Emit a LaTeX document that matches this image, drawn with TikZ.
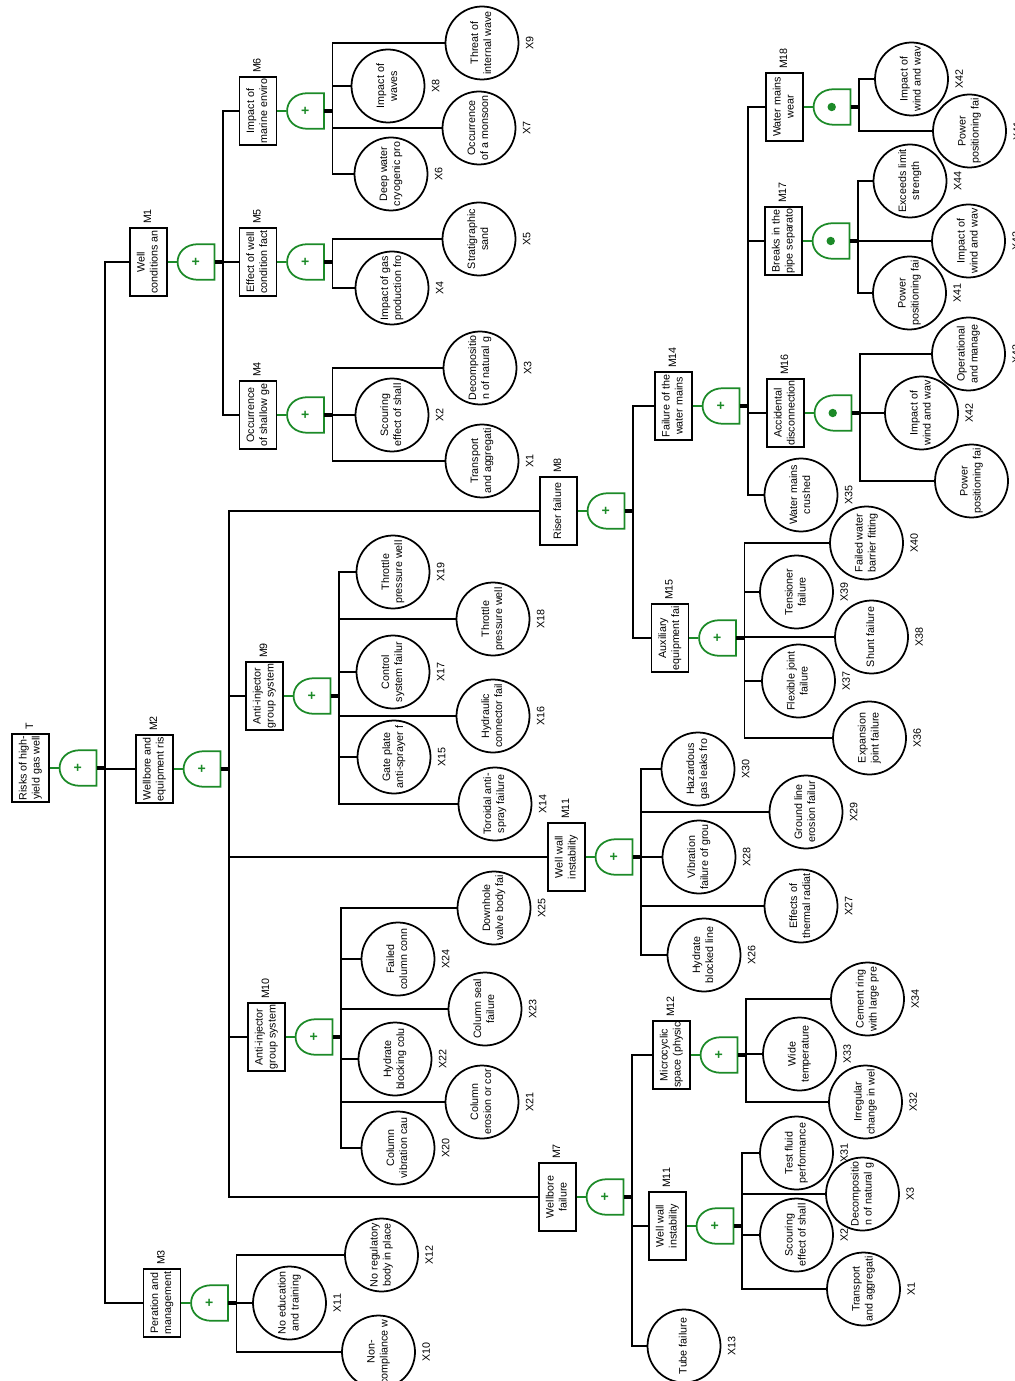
\documentclass[tikz,border=0pt]{standalone}
\usepackage{fontspec}
\setmainfont{Liberation Sans}
\usepackage{graphicx}
\usetikzlibrary{positioning,calc}
\definecolor{fgreen}{RGB}{28,138,40}
\newcommand{\evfont}{\fontsize{6.1}{7.4}\selectfont}
\newcommand{\rv}[1]{\rotatebox{90}{\begin{tabular}{@{}c@{}}#1\end{tabular}}}
\tikzset{
  evbox/.style={draw,line width=1pt,minimum width=0.74cm,minimum height=1.36cm,inner sep=0pt,font=\evfont},
  ev/.style={evbox,label={[tag,label distance=1pt]above:\rv{#1}}},
  basic/.style={draw,circle,line width=1pt,minimum size=1.46cm,inner sep=0pt,font=\evfont},
  bx/.style={basic,label={[tag,label distance=2pt]right:\rv{#1}}},
  gatebox/.style={minimum width=0.74cm,minimum height=0.70cm,inner sep=0pt},
  gateline/.style={draw=fgreen,line width=1pt},
  tag/.style={font=\evfont,inner sep=0.6pt},
  link/.style={line width=1pt},
  glink/.style={draw=fgreen,line width=1pt},
  outlink/.style={line width=1.8pt}
}
% gate right of an event box (gate name, box name)
\newcommand{\gatefor}[2]{%
  \node[gatebox,right=0.18cm of #2] (#1) {};
  \draw[gateline] (#1.north east) -- (#1.south east) -- ([xshift=-0.32cm]#1.south east)
    .. controls ([xshift=-0.88cm]#1.south east) and ([xshift=-0.88cm]#1.north east)
    .. ([xshift=-0.32cm]#1.north east) -- cycle;
  \draw[glink] (#2.east) -- (#1.west);
  \coordinate (#1o) at ([xshift=0.17cm]#1.east);
  \draw[outlink] (#1.east) -- (#1o);}
\newcommand{\orgate}[2]{\gatefor{#1}{#2}\node[text=fgreen,font=\bfseries\fontsize{8}{8}\selectfont,inner sep=0pt] at (#1) {+};}
\newcommand{\andgate}[2]{\gatefor{#1}{#2}\fill[fgreen] (#1) circle (2.4pt);}

\begin{document}
\begin{tikzpicture}[x=0.02cm,y=-0.02cm]
\useasboundingbox (0,0) rectangle (1014,1381);
\clip (0,0) rectangle (1014,1381);

% top event
\node[ev=T] (top) at (30.5,768) {\rv{Risks of high-\\yield gas well}};
\orgate{gt}{top}

% first level
\node[ev=M1] (m1) at (148.5,262) {\rv{Well\\conditions an}};
\node[ev=M2] (m2) at (154.5,769) {\rv{Wellbore and\\equipment ris}};
\node[ev=M3] (m3) at (162,1303) {\rv{Peration and\\management}};
\foreach \c in {m1,m2,m3} \draw[link] (gto) |- (\c.west);
\orgate{g1}{m1}
\orgate{g2}{m2}
\orgate{g3}{m3}

% well conditions
\node[ev=M4] (m4) at (258,415) {\rv{Occurrence\\of shallow ge}};
\node[ev=M5] (m5) at (258,262) {\rv{Effect of well\\condition fact}};
\node[ev=M6] (m6) at (258,111) {\rv{Impact of\\marine enviro}};
\foreach \c in {m4,m5,m6} \draw[link] (g1o) |- (\c.west);
\orgate{g4}{m4}
\orgate{g5}{m5}
\orgate{g6}{m6}
\node[bx=X1] (x1) at (482,461) {\rv{Transport\\and aggregati}};
\node[bx=X2] (x2) at (392,415) {\rv{Scouring\\effect of shall}};
\node[bx=X3] (x3) at (480,368) {\rv{Decompositio\\n of natural g}};
\foreach \c in {x1,x2,x3} \draw[link] (g4o) |- (\c.west);
\node[bx=X4] (x4) at (392,288) {\rv{Impact of gas\\production fro}};
\node[bx=X5] (x5) at (479,239) {\rv{Stratigraphic\\sand}};
\foreach \c in {x4,x5} \draw[link] (g5o) |- (\c.west);
\node[bx=X6] (x6) at (391,174) {\rv{Deep water\\cryogenic pro}};
\node[bx=X7] (x7) at (479,128) {\rv{Occurrence\\of a monsoon}};
\node[bx=X8] (x8) at (388,86) {\rv{Impact of\\waves}};
\node[bx=X9] (x9) at (482,43) {\rv{Threat of\\internal wave}};
\foreach \c in {x6,x7,x8,x9} \draw[link] (g6o) |- (\c.west);

% wellbore and equipment
\node[ev=M8] (m8) at (558.5,511) {\rv{Riser failure}};
\node[ev=M9] (m9) at (264.5,696) {\rv{Anti-injector\\group system}};
\node[ev=M11] (m11a) at (566.5,857) {\rv{Well wall\\instability}};
\node[ev=M10] (m10) at (266.5,1037) {\rv{Anti-injector\\group system}};
\node[ev=M7] (m7) at (557.5,1197) {\rv{Wellbore\\failure}};
\foreach \c in {m8,m9,m11a,m10,m7} \draw[link] (g2o) |- (\c.west);
\orgate{g8}{m8}
\orgate{g9}{m9}
\orgate{g11a}{m11a}
\orgate{g10}{m10}
\orgate{g7}{m7}

\node[bx=X14] (x14) at (495,804) {\rv{Toroidal anti-\\spray failure}};
\node[bx=X15] (x15) at (394,757) {\rv{Gate plate\\anti-sprayer f}};
\node[bx=X16] (x16) at (493,716) {\rv{Hydraulic\\connector fail}};
\node[bx=X17] (x17) at (393,672) {\rv{Control\\system failur}};
\node[bx=X18] (x18) at (493,619) {\rv{Throttle\\pressure well}};
\node[bx=X19] (x19) at (393,572) {\rv{Throttle\\pressure well}};
\foreach \c in {x14,x15,x16,x17,x18,x19} \draw[link] (g9o) |- (\c.west);

\node[bx=X20] (x20) at (398,1148) {\rv{Column\\vibration cau}};
\node[bx=X21] (x21) at (482,1102) {\rv{Column\\erosion or cor}};
\node[bx=X22] (x22) at (395,1059) {\rv{Hydrate\\blocking colu}};
\node[bx=X23] (x23) at (485,1009) {\rv{Column seal\\failure}};
\node[bx=X24] (x24) at (398,959) {\rv{Failed\\column conn}};
\node[bx=X25] (x25) at (494,908) {\rv{Downhole\\valve body fai}};
\foreach \c in {x20,x21,x22,x23,x24,x25} \draw[link] (g10o) |- (\c.west);

\node[bx=X26] (x26) at (704,955) {\rv{Hydrate\\blocked line}};
\node[bx=X27] (x27) at (801,906) {\rv{Effects of\\thermal radiat}};
\node[bx=X28] (x28) at (699,857) {\rv{Vibration\\failure of grou}};
\node[bx=X29] (x29) at (806,812) {\rv{Ground line\\erosion failur}};
\node[bx=X30] (x30) at (698,769) {\rv{Hazardous\\gas leaks fro}};
\foreach \c in {x26,x27,x28,x29,x30} \draw[link] (g11ao) |- (\c.west);

% riser
\node[ev=M14] (m14) at (673.5,406) {\rv{Failure of the\\water mains}};
\node[ev=M15] (m15) at (670,638) {\rv{Auxiliary\\equipment fai}};
\foreach \c in {m14,m15} \draw[link] (g8o) |- (\c.west);
\orgate{g14}{m14}
\orgate{g15}{m15}

\node[ev=M18] (m18) at (784.5,107) {\rv{Water mains\\wear}};
\node[ev=M17] (m17) at (783.5,241) {\rv{Breaks in the\\pipe separato}};
\node[ev=M16] (m16) at (785.5,413) {\rv{Accidental\\disconnection}};
\node[bx=X35] (x35) at (801,495) {\rv{Water mains\\crushed}};
\foreach \c in {m18,m17,m16,x35} \draw[link] (g14o) |- (\c.west);
\andgate{g18}{m18}
\andgate{g17}{m17}
\andgate{g16}{m16}

\node[bx=X42] (x42a) at (911.5,79) {\rv{Impact of\\wind and wav}};
\node[bx=X41] (x41a) at (969.5,131) {\rv{Power\\positioning fai}};
\foreach \c in {x42a,x41a} \draw[link] (g18o) |- (\c.west);
\node[bx=X44] (x44) at (910,181) {\rv{Exceeds limit\\strength}};
\node[bx=X42] (x42b) at (968.5,241) {\rv{Impact of\\wind and wav}};
\node[bx=X41] (x41b) at (909.5,293) {\rv{Power\\positioning fai}};
\foreach \c in {x44,x42b,x41b} \draw[link] (g17o) |- (\c.west);
\node[bx=X43] (x43) at (968.5,354) {\rv{Operational\\and manage}};
\node[bx=X42] (x42c) at (921.5,413) {\rv{Impact of\\wind and wav}};
\node[bx=X41] (x41c) at (971.5,481) {\rv{Power\\positioning fai}};
\foreach \c in {x43,x42c,x41c} \draw[link] (g16o) |- (\c.west);

\node[bx=X40] (x40) at (866.5,543) {\rv{Failed water\\barrier fitting}};
\node[bx=X39] (x39) at (796.5,592) {\rv{Tensioner\\failure}};
\node[bx=X38] (x38) at (871.5,637) {\rv{Shunt failure}};
\node[bx=X37] (x37) at (798.5,681) {\rv{Flexible joint\\failure}};
\node[bx=X36] (x36) at (869.5,738) {\rv{Expansion\\joint failure}};
\foreach \c in {x40,x39,x38,x37,x36} \draw[link] (g15o) |- (\c.west);

% wellbore failure
\node[ev=M12] (m12) at (671.5,1055) {\rv{Microcyclic\\space (physic}};
\node[ev=M11] (m11b) at (667.5,1226) {\rv{Well wall\\instability}};
\node[bx=X13] (x13) at (684,1346) {\rv{Tube failure}};
\foreach \c in {m12,m11b,x13} \draw[link] (g7o) |- (\c.west);
\orgate{g12}{m12}
\orgate{g11b}{m11b}

\node[bx=X34] (x34) at (867.5,999) {\rv{Cement ring\\with large pre}};
\node[bx=X33] (x33) at (799.5,1054) {\rv{Wide\\temperature}};
\node[bx=X32] (x32) at (865.5,1102) {\rv{Irregular\\change in wel}};
\foreach \c in {x34,x33,x32} \draw[link] (g12o) |- (\c.west);

\node[bx=X31] (x31) at (796.5,1153) {\rv{Test fluid\\performance}};
\node[bx=X3] (x3b) at (862.5,1194) {\rv{Decompositio\\n of natural g}};
\node[bx=X2] (x2b) at (796.5,1235) {\rv{Scouring\\effect of shall}};
\node[bx=X1] (x1b) at (863.5,1289) {\rv{Transport\\and aggregati}};
\foreach \c in {x31,x3b,x2b,x1b} \draw[link] (g11bo) |- (\c.west);

% operation and management
\node[bx=X12] (x12) at (381.5,1255) {\rv{No regulatory\\body in place}};
\node[bx=X11] (x11) at (289.5,1303) {\rv{No education\\and training}};
\node[bx=X10] (x10) at (378.5,1352) {\rv{Non-\\compliance w}};
\foreach \c in {x12,x11,x10} \draw[link] (g3o) |- (\c.west);
\end{tikzpicture}
\end{document}
